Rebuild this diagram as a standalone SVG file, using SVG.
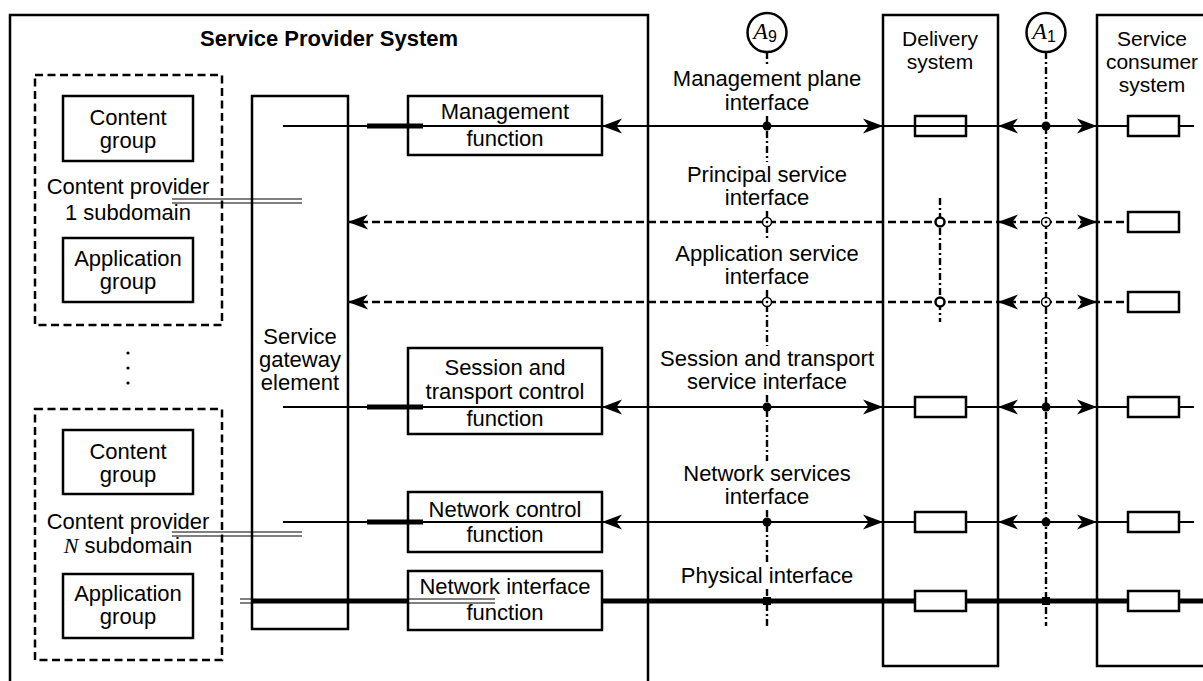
<svg xmlns="http://www.w3.org/2000/svg" xmlns:xlink="http://www.w3.org/1999/xlink" width="1203" height="681" viewBox="0 0 1203 681">
<style>
text{font-family:"Liberation Sans",Arial,Helvetica,sans-serif;font-size:22px;text-anchor:middle;fill:#000}
.title{font-weight:bold}
.box{fill:#fff;stroke:#000;stroke-width:2.5}
.frame{fill:none;stroke:#000;stroke-width:2.5}
.dbox{fill:none;stroke:#000;stroke-width:2.5;stroke-dasharray:8 4.5}
.ln{fill:none;stroke:#000;stroke-width:2.2}
.thick{stroke-width:5}
.dash{stroke-width:2.5;stroke-dasharray:8 4}
.dd{stroke-width:2.4;stroke-dasharray:7 3 2 3}
.dbl{fill:none;stroke:#000;stroke-width:1.2}
.sb{fill:#fff;stroke:#000;stroke-width:2.5}
.it{font-family:"Liberation Serif","Times New Roman",serif;font-style:italic}
.ring{fill:#fff;stroke:#000;stroke-width:1.5}
.oc{fill:#fff;stroke:#000;stroke-width:2.5}
.sm{font-size:21px}
</style>
<defs>
<path id="ah" d="M0,0 L-20,-7.5 L-14.5,0 L-20,7.5 Z" fill="#000"/>
<g id="tgt"><circle r="4.5" class="ring"/><circle r="1.3" fill="#000"/></g>
</defs>

<g id="service-provider-system">
<path class="frame" d="M10,681 V15 H648 V681"/>
<text class="title" x="329" y="46">Service Provider System</text>
</g>

<g id="content-provider-1">
<rect class="dbox" x="35" y="75" width="187" height="250"/>
<text x="128" y="194">Content provider</text>
<text x="128" y="220">1 subdomain</text>
</g>
<g id="content-group-1">
<rect class="box" x="63" y="96" width="130" height="65"/>
<text x="128" y="125">Content</text>
<text x="128" y="148">group</text>
</g>
<g id="application-group-1">
<rect class="box" x="63" y="238" width="130" height="64"/>
<text x="128" y="266">Application</text>
<text x="128" y="289">group</text>
</g>

<g id="ellipsis">
<circle cx="128" cy="353" r="1.6"/>
<circle cx="128" cy="368" r="1.6"/>
<circle cx="128" cy="383" r="1.6"/>
</g>

<g id="content-provider-n">
<rect class="dbox" x="35" y="409" width="187" height="251"/>
<text x="128" y="529">Content provider</text>
<text x="128" y="553"><tspan class="it">N</tspan> subdomain</text>
</g>
<g id="content-group-n">
<rect class="box" x="63" y="430" width="130" height="64"/>
<text x="128" y="459">Content</text>
<text x="128" y="482">group</text>
</g>
<g id="application-group-n">
<rect class="box" x="63" y="574" width="130" height="64"/>
<text x="128" y="601">Application</text>
<text x="128" y="624">group</text>
</g>

<g id="service-gateway-element">
<rect class="box" x="252" y="96" width="96" height="533"/>
<text x="300" y="344">Service</text>
<text x="300" y="367">gateway</text>
<text x="300" y="390">element</text>
</g>

<g id="management-function">
<rect class="box" x="408" y="96" width="194" height="59"/>
<text x="505" y="119">Management</text>
<text x="505" y="146">function</text>
</g>
<g id="session-transport-control-function">
<rect class="box" x="408" y="348" width="194" height="86"/>
<text x="505" y="375">Session and</text>
<text x="505" y="399">transport control</text>
<text x="505" y="426">function</text>
</g>
<g id="network-control-function">
<rect class="box" x="408" y="492" width="194" height="60"/>
<text x="505" y="517">Network control</text>
<text x="505" y="542">function</text>
</g>
<g id="network-interface-function">
<rect class="box" x="408" y="571" width="194" height="59"/>
<text x="505" y="594">Network interface</text>
<text x="505" y="620">function</text>
</g>

<g id="delivery-system">
<rect class="frame" x="883" y="15" width="115" height="651"/>
<text class="sm" x="940" y="46">Delivery</text>
<text class="sm" x="940" y="69">system</text>
</g>
<g id="service-consumer-system">
<path class="frame" d="M1210,15 H1097 V666 H1210"/>
<text class="sm" x="1152" y="46">Service</text>
<text class="sm" x="1152" y="69">consumer</text>
<text class="sm" x="1152" y="92">system</text>
</g>

<g id="reference-point-a9">
<circle class="frame" cx="767" cy="32.5" r="19.5"/>
<text x="765" y="39"><tspan class="it" font-size="24">A</tspan><tspan font-size="16" dy="3">9</tspan></text>
<text x="767" y="86">Management plane</text>
<text x="767" y="110">interface</text>
<text x="767" y="182">Principal service</text>
<text x="767" y="205">interface</text>
<text x="767" y="261">Application service</text>
<text x="767" y="284">interface</text>
<text x="767" y="366">Session and transport</text>
<text x="767" y="389">service interface</text>
<text x="767" y="481">Network services</text>
<text x="767" y="504">interface</text>
<text x="767" y="583">Physical interface</text>
</g>
<g id="reference-point-a1">
<circle class="frame" cx="1046" cy="32.5" r="19.5"/>
<text x="1044" y="39"><tspan class="it" font-size="24">A</tspan><tspan font-size="16" dy="3">1</tspan></text>
</g>

<g id="connectors">
<path class="ln dd" d="M767,52 V67 M767,116 V162 M767,211 V241 M767,290 V346 M767,395 V461 M767,510 V564 M767,589 V626"/>
<path class="ln dd" d="M1046,52 V626"/>
<path class="ln dd" d="M940,198 V322"/>

<path class="dbl" d="M172,199 H302 M172,203 H302"/>
<path class="dbl" d="M172,532 H302 M172,536 H302"/>

<path class="ln" d="M283,126 H367 M423,126 H1194"/>
<path class="ln thick" d="M367,126 H423"/>
<use xlink:href="#ah" transform="translate(602,126) scale(-1,1)"/>
<use xlink:href="#ah" transform="translate(883,126)"/>
<use xlink:href="#ah" transform="translate(998,126) scale(-1,1)"/>
<use xlink:href="#ah" transform="translate(1097,126)"/>
<circle cx="767" cy="126" r="4.5"/>
<circle cx="1046" cy="126" r="4.5"/>

<path class="ln dash" d="M348,222 H1128"/>
<use xlink:href="#ah" transform="translate(348,222) scale(-1,1)"/>
<use xlink:href="#ah" transform="translate(998,222) scale(-1,1)"/>
<use xlink:href="#ah" transform="translate(1097,222)"/>
<use xlink:href="#tgt" x="767" y="222"/>
<use xlink:href="#tgt" x="1046" y="222"/>
<circle class="oc" cx="940" cy="222" r="4.5"/>

<path class="ln dash" d="M348,302 H1128"/>
<use xlink:href="#ah" transform="translate(348,302) scale(-1,1)"/>
<use xlink:href="#ah" transform="translate(998,302) scale(-1,1)"/>
<use xlink:href="#ah" transform="translate(1097,302)"/>
<use xlink:href="#tgt" x="767" y="302"/>
<use xlink:href="#tgt" x="1046" y="302"/>
<circle class="oc" cx="940" cy="302" r="4.5"/>

<path class="ln" d="M283,407 H367 M423,407 H1194"/>
<path class="ln thick" d="M367,407 H423"/>
<use xlink:href="#ah" transform="translate(602,407) scale(-1,1)"/>
<use xlink:href="#ah" transform="translate(883,407)"/>
<use xlink:href="#ah" transform="translate(998,407) scale(-1,1)"/>
<use xlink:href="#ah" transform="translate(1097,407)"/>
<circle cx="767" cy="407" r="4.5"/>
<circle cx="1046" cy="407" r="4.5"/>

<path class="ln" d="M283,522 H367 M423,522 H1194"/>
<path class="ln thick" d="M367,522 H423"/>
<use xlink:href="#ah" transform="translate(602,522) scale(-1,1)"/>
<use xlink:href="#ah" transform="translate(883,522)"/>
<use xlink:href="#ah" transform="translate(998,522) scale(-1,1)"/>
<use xlink:href="#ah" transform="translate(1097,522)"/>
<circle cx="767" cy="522" r="4.5"/>
<circle cx="1046" cy="522" r="4.5"/>

<path class="dbl" d="M240,599 H252 M240,603 H252"/>
<path class="ln thick" d="M252,601 H408 M602,601 H1203"/>
<path class="dbl" d="M408,599 H495 M408,603 H495"/>
<rect x="763" y="597" width="8" height="8"/>
<rect x="1042" y="597" width="8" height="8"/>
</g>

<g id="delivery-ports">
<rect class="sb" x="915" y="116" width="51" height="20"/>
<path class="ln" d="M915,126 H966"/>
<rect class="sb" x="915" y="397" width="51" height="20"/>
<rect class="sb" x="915" y="512" width="51" height="20"/>
<rect class="sb" x="915" y="591" width="51" height="20"/>
</g>
<g id="consumer-ports">
<rect class="sb" x="1128" y="116" width="51" height="20"/>
<rect class="sb" x="1128" y="212" width="51" height="20"/>
<rect class="sb" x="1128" y="292" width="51" height="20"/>
<rect class="sb" x="1128" y="397" width="51" height="20"/>
<rect class="sb" x="1128" y="512" width="51" height="20"/>
<rect class="sb" x="1128" y="591" width="51" height="20"/>
</g>
</svg>
